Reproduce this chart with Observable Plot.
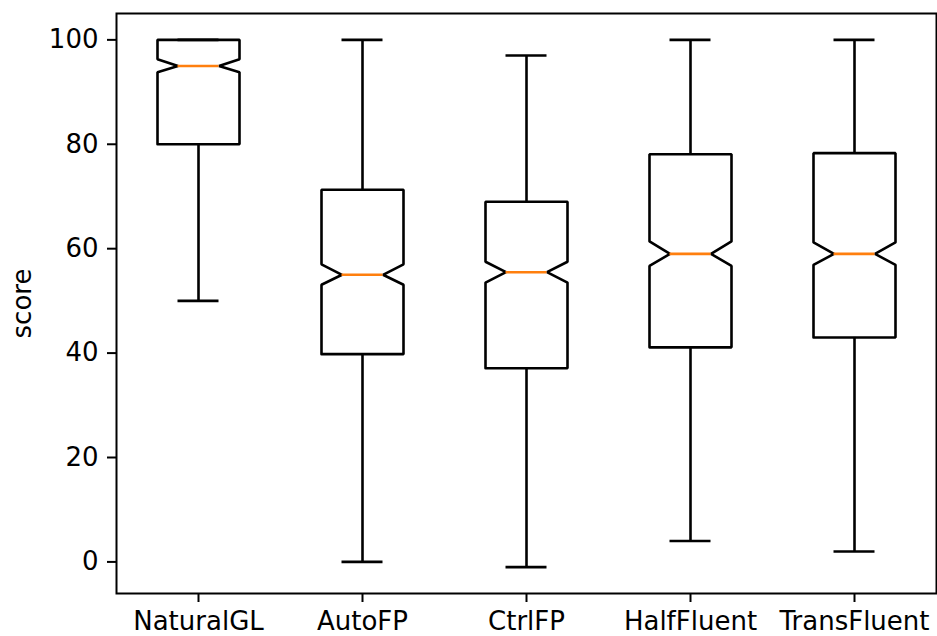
<!DOCTYPE html>
<html>
<head>
<meta charset="utf-8">
<script src="https://cdn.jsdelivr.net/npm/d3@7"></script>
<script src="https://cdn.jsdelivr.net/npm/@observablehq/plot@0.6"></script>
<style>
  html, body { margin: 0; padding: 0; background: #fff; }
  #chart { width: 937px; height: 636px; }
</style>
</head>
<body>
<div id="chart"></div>
<script>
// Categories and box statistics
const categories = ["NaturalGL", "AutoFP", "CtrlFP", "HalfFluent", "TransFluent"];
const whiskerLow  = [50, 0, -1, 4, 2];
const q1          = [80, 39.8, 37.1, 41.1, 43.0];
const notchLow    = [93.8, 53.1, 53.5, 56.7, 56.9];
const median      = [95, 55.0, 55.5, 59.0, 59.0];
const notchHigh   = [96.3, 57.0, 57.5, 61.4, 61.2];
const q3          = [100, 71.3, 69.0, 78.1, 78.3];
const whiskerHigh = [100, 100, 97, 100, 100];
const yTicks = [0, 20, 40, 60, 80, 100];

const boxHalf = 0.25;    // half box width (x units)
const notchHalf = 0.125; // half notch waist / cap width

const boxes = categories.map((c, i) => ({
  name: c, x: i + 1,
  wl: whiskerLow[i], q1: q1[i], nl: notchLow[i], med: median[i],
  nh: notchHigh[i], q3: q3[i], wh: whiskerHigh[i]
}));

// Notched outline points for each box
const outline = boxes.flatMap(b => [
  [b.x - boxHalf, b.q1], [b.x - boxHalf, b.nl], [b.x - notchHalf, b.med],
  [b.x - boxHalf, b.nh], [b.x - boxHalf, b.q3], [b.x + boxHalf, b.q3],
  [b.x + boxHalf, b.nh], [b.x + notchHalf, b.med], [b.x + boxHalf, b.nl],
  [b.x + boxHalf, b.q1], [b.x - boxHalf, b.q1]
].map(([x, y]) => ({name: b.name, x, y})));

const font = "'DejaVu Sans', sans-serif";
const lw = 2.6;

const chart = Plot.plot({
  width: 937,
  height: 636,
  marginLeft: 116,
  marginRight: 1,
  marginTop: 13,
  marginBottom: 43,
  style: {fontFamily: font, fontSize: "26px", background: "#fff", color: "#000", overflow: "visible"},
  x: {type: "linear", domain: [0.5, 5.5]},
  y: {type: "linear", domain: [-6.05, 105.05]},
  marks: [
    // whiskers
    Plot.ruleX(boxes, {x: "x", y1: "q3", y2: "wh", stroke: "#000", strokeWidth: lw}),
    Plot.ruleX(boxes, {x: "x", y1: "q1", y2: "wl", stroke: "#000", strokeWidth: lw}),
    // caps
    Plot.ruleY(boxes, {y: "wh", x1: d => d.x - notchHalf, x2: d => d.x + notchHalf, stroke: "#000", strokeWidth: lw}),
    Plot.ruleY(boxes, {y: "wl", x1: d => d.x - notchHalf, x2: d => d.x + notchHalf, stroke: "#000", strokeWidth: lw}),
    // notched boxes
    Plot.line(outline, {x: "x", y: "y", z: "name", stroke: "#000", strokeWidth: lw, strokeLinejoin: "miter", fill: "none"}),
    // medians
    Plot.ruleY(boxes, {y: "med", x1: d => d.x - notchHalf, x2: d => d.x + notchHalf, stroke: "#ff7f0e", strokeWidth: lw}),
    // axes
    Plot.axisX({ticks: categories.map((c, i) => i + 1), tickFormat: d => categories[d - 1],
      tickSize: 9, tickPadding: 9, strokeWidth: 2, label: null, fontSize: 26}),
    Plot.axisY({ticks: yTicks, tickFormat: d => String(d), tickSize: 9, tickPadding: 9,
      strokeWidth: 2, label: null, fontSize: 26}),
    Plot.frame({stroke: "#000", strokeWidth: 2}),
    // y-axis label
    Plot.text(["score"], {frameAnchor: "left", dx: -94, rotate: -90, text: d => d,
      textAnchor: "middle", fontSize: 26, fill: "#000"})
  ]
});
document.getElementById("chart").appendChild(chart);
</script>
</body>
</html>
